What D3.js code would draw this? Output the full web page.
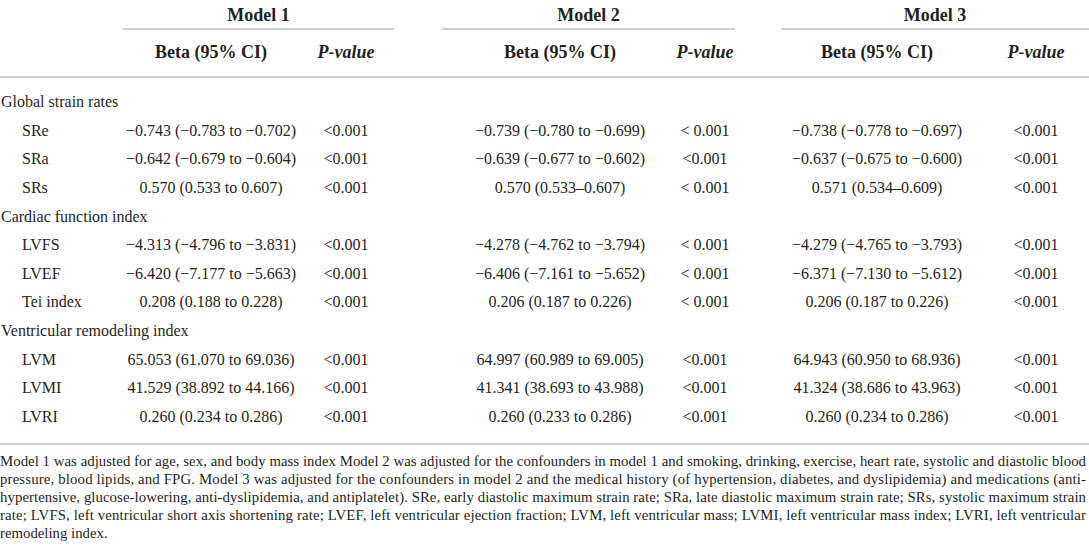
<!DOCTYPE html>
<html>
<head>
<meta charset="utf-8">
<script src="https://cdn.jsdelivr.net/npm/d3@7"></script>
<style>
  body { margin: 0; background: #fff; }
  svg text { font-family: "Liberation Serif", "Times New Roman", serif; fill: #231f20; }
</style>
</head>
<body>
<div id="table"></div>
<script>
// table content
var models = ["Model 1", "Model 2", "Model 3"];
var colHeaders = ["Beta (95% CI)", "P-value"];
var groups = ["Global strain rates", "Cardiac function index", "Ventricular remodeling index"];
var rowLabels = ["SRe", "SRa", "SRs", "LVFS", "LVEF", "Tei index", "LVM", "LVMI", "LVRI"];
var rowGroup = [0, 0, 0, 1, 1, 1, 2, 2, 2];

var beta1 = ["\u22120.743 (\u22120.783 to \u22120.702)", "\u22120.642 (\u22120.679 to \u22120.604)", "0.570 (0.533 to 0.607)",
  "\u22124.313 (\u22124.796 to \u22123.831)", "\u22126.420 (\u22127.177 to \u22125.663)", "0.208 (0.188 to 0.228)",
  "65.053 (61.070 to 69.036)", "41.529 (38.892 to 44.166)", "0.260 (0.234 to 0.286)"];
var p1 = ["<0.001", "<0.001", "<0.001", "<0.001", "<0.001", "<0.001", "<0.001", "<0.001", "<0.001"];
var beta2 = ["\u22120.739 (\u22120.780 to \u22120.699)", "\u22120.639 (\u22120.677 to \u22120.602)", "0.570 (0.533\u20130.607)",
  "\u22124.278 (\u22124.762 to \u22123.794)", "\u22126.406 (\u22127.161 to \u22125.652)", "0.206 (0.187 to 0.226)",
  "64.997 (60.989 to 69.005)", "41.341 (38.693 to 43.988)", "0.260 (0.233 to 0.286)"];
var p2 = ["< 0.001", "<0.001", "< 0.001", "< 0.001", "< 0.001", "< 0.001", "<0.001", "<0.001", "<0.001"];
var beta3 = ["\u22120.738 (\u22120.778 to \u22120.697)", "\u22120.637 (\u22120.675 to \u22120.600)", "0.571 (0.534\u20130.609)",
  "\u22124.279 (\u22124.765 to \u22123.793)", "\u22126.371 (\u22127.130 to \u22125.612)", "0.206 (0.187 to 0.226)",
  "64.943 (60.950 to 68.936)", "41.324 (38.686 to 43.963)", "0.260 (0.234 to 0.286)"];
var p3 = ["<0.001", "<0.001", "<0.001", "<0.001", "<0.001", "<0.001", "<0.001", "<0.001", "<0.001"];

var footnote = [
  "Model 1 was adjusted for age, sex, and body mass index Model 2 was adjusted for the confounders in model 1 and smoking, drinking, exercise, heart rate, systolic and diastolic blood",
  "pressure, blood lipids, and FPG. Model 3 was adjusted for the confounders in model 2 and the medical history (of hypertension, diabetes, and dyslipidemia) and medications (anti-",
  "hypertensive, glucose-lowering, anti-dyslipidemia, and antiplatelet). SRe, early diastolic maximum strain rate; SRa, late diastolic maximum strain rate; SRs, systolic maximum strain",
  "rate; LVFS, left ventricular short axis shortening rate; LVEF, left ventricular ejection fraction; LVM, left ventricular mass; LVMI, left ventricular mass index; LVRI, left ventricular",
  "remodeling index."
];

var width = 1089, height = 550;
var betas = [beta1, beta2, beta3];
var pvals = [p1, p2, p3];

// column layout: each model's span and its two column centres
var modelX = d3.scaleOrdinal().domain(models).range([[123, 394], [442, 735], [781, 1089]]);
var betaX = d3.scaleOrdinal().domain(models).range([211, 560, 877]);
var pX = d3.scaleOrdinal().domain(models).range([346, 705, 1036]);

// rows: group headers interleaved with data rows
var rows = [];
rowLabels.forEach(function(label, i) {
	if (i == 0 || rowGroup[i] != rowGroup[i - 1]) rows.push({ type: "group", label: groups[rowGroup[i]] });
	rows.push({ type: "row", label: label, index: i });
});

var y = d3.scalePoint()
    .domain(d3.range(rows.length))
    .range([102, 417]);

var svg = d3.select("#table")
  .append("svg")
    .attr("width", width)
    .attr("height", height);

// header
svg.selectAll("text.model")
    .data(models)
  .enter().append("text")
    .attr("class", "model")
    .attr("x", function(d) { var r = modelX(d); return (r[0] + r[1]) / 2; })
    .attr("y", 21)
    .attr("text-anchor", "middle")
    .style("font-weight", "bold")
    .style("font-size", "18px")
    .text(function(d) { return d; });

svg.selectAll("line.model")
    .data(models)
  .enter().append("line")
    .attr("x1", function(d) { return modelX(d)[0]; })
    .attr("x2", function(d) { return modelX(d)[1]; })
    .attr("y1", 29)
    .attr("y2", 29)
    .attr("stroke", "#cfcfcf")
    .attr("stroke-width", 2);

models.forEach(function(m) {
	svg.append("text")
	    .attr("x", betaX(m))
	    .attr("y", 58)
	    .attr("text-anchor", "middle")
	    .style("font-weight", "bold")
	    .style("font-size", "18px")
	    .text(colHeaders[0]);
	svg.append("text")
	    .attr("x", pX(m))
	    .attr("y", 58)
	    .attr("text-anchor", "middle")
	    .style("font-weight", "bold")
	    .style("font-style", "italic")
	    .style("font-size", "18px")
	    .text(colHeaders[1]);
});

[77, 444].forEach(function(ly) {
	svg.append("line")
	    .attr("x1", 0)
	    .attr("x2", width)
	    .attr("y1", ly)
	    .attr("y2", ly)
	    .attr("stroke", "#cfcfcf")
	    .attr("stroke-width", 2);
});

// body rows
var g = svg.selectAll("g.row")
    .data(rows)
  .enter().append("g")
    .attr("class", "row")
    .attr("transform", function(d, i) { return "translate(0, " + (y(i) + 5) + ")"; })
    .style("font-size", "16px");

g.append("text")
    .attr("x", function(d) { return d.type == "group" ? 1 : 22; })
    .text(function(d) { return d.label; });

models.forEach(function(m, k) {
	g.filter(function(d) { return d.type == "row"; })
	  .append("text")
	    .attr("x", betaX(m))
	    .attr("text-anchor", "middle")
	    .text(function(d) { return betas[k][d.index]; });
	g.filter(function(d) { return d.type == "row"; })
	  .append("text")
	    .attr("x", pX(m))
	    .attr("text-anchor", "middle")
	    .text(function(d) { return pvals[k][d.index]; });
});

// footnote, justified except the last line
svg.selectAll("text.note")
    .data(footnote)
  .enter().append("text")
    .attr("class", "note")
    .attr("x", 0)
    .attr("y", function(d, i) { return 466 + i * 18; })
    .style("font-size", "14.8px")
    .attr("textLength", function(d, i) { return i < footnote.length - 1 ? 1086 : null; })
    .attr("lengthAdjust", "spacing")
    .text(function(d) { return d; });
</script>
</body>
</html>
